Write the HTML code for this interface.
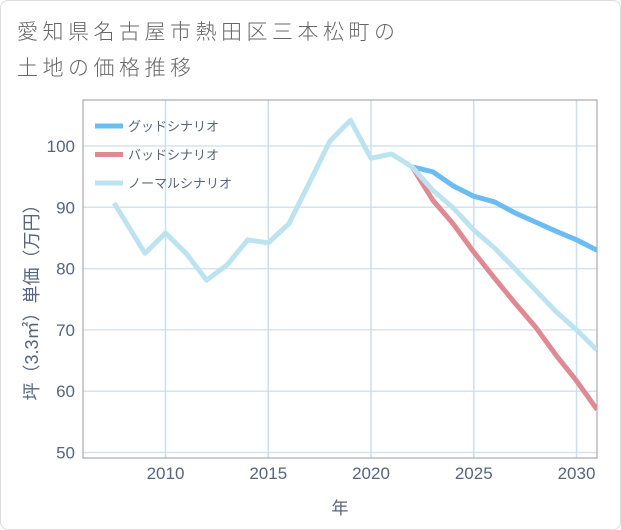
<!DOCTYPE html>
<html><head><meta charset="utf-8"><style>
body{margin:0;background:#fff;}
#wrap{position:relative;width:619px;height:528px;border:1px solid #ddd;border-radius:8px;background:#fff;font-family:"Liberation Sans","Noto Sans CJK JP",sans-serif;overflow:hidden}
#title{position:absolute;left:16px;top:14px;font-size:21px;letter-spacing:4.5px;line-height:36px;color:#666;font-weight:300}
</style></head><body>
<div id="wrap">
<div id="title">愛知県名古屋市熱田区三本松町の<br>土地の価格推移</div>
<svg id="chart" width="621" height="530" style="position:absolute;left:-1px;top:-1px"></svg>
</div>
<script>
const years=[2007.5,2009,2010,2011,2012,2013,2014,2015,2016,2017,2018,2019,2020,2021,2022];
const normalHist=[90.7,82.5,85.8,82.5,78.1,80.6,84.7,84.2,87.3,94,100.8,104.2,98,98.7,96.6];
const futYears=[2022,2023,2024,2025,2026,2027,2028,2029,2030,2031];
const good=[96.6,95.8,93.5,91.8,90.9,89.1,87.6,86.1,84.7,83];
const bad=[96.6,91.2,87.3,82.7,78.5,74.4,70.5,65.9,61.7,57];
const normalFut=[96.6,92.8,89.9,86.3,83.4,80,76.5,73,70,66.7];
const xTicks=[2010,2015,2020,2025,2030];
const yTicks=[50,60,70,80,90,100];
const legendNames=["グッドシナリオ","バッドシナリオ","ノーマルシナリオ"];
const colors=["#6bbcf2","#df8a92","#bde3f0"];
const L=83,R=597,T=100,B=458;
const xs=v=>371+(v-2020)*20.55;
const ys=v=>146+(100-v)*6.13;
const svg=document.getElementById('chart');
const NS='http://www.w3.org/2000/svg';
function mk(t,a,p){const e=document.createElementNS(NS,t);for(const k in a)e.setAttribute(k,a[k]);(p||svg).appendChild(e);return e;}
const defs=mk('clipPath',{id:'clip'});mk('rect',{x:L,y:T,width:R-L,height:B-T},defs);
yTicks.forEach(v=>{const g=mk('line',{x1:L,x2:R,y1:ys(v),y2:ys(v),stroke:'#d6e3ee','stroke-width':1.5});

const t=mk('text',{x:L-8,y:ys(v)+6,'text-anchor':'end','font-size':17,fill:'#56657d'});t.textContent=v;
});
xTicks.forEach(v=>{const g=mk('line',{x1:xs(v),x2:xs(v),y1:T,y2:B,stroke:'#c9e0ee','stroke-width':1.5});

const t=mk('text',{x:xs(v),y:B+21,'text-anchor':'middle','font-size':17,fill:'#56657d'});t.textContent=v;
});
const bd=mk('rect',{x:L,y:T,width:R-L,height:B-T,fill:'none',stroke:'#999','stroke-width':1});

function line(xv,yv,c,name){const p=mk('polyline',{points:xv.map((x,i)=>xs(x)+','+ys(yv[i])).join(' '),fill:'none',stroke:c,'stroke-width':5,'stroke-linejoin':'round','clip-path':'url(#clip)'});
}
line(futYears,good,colors[0],'good-scenario-line');
line(futYears,bad,colors[1],'bad-scenario-line');
line(years.concat(futYears.slice(1)),normalHist.concat(normalFut.slice(1)),colors[2],'normal-scenario-line');
legendNames.forEach((n,i)=>{const y=126+i*28.5;
const l=mk('line',{x1:95,x2:123,y1:y,y2:y,stroke:colors[i],'stroke-width':5});

const t=mk('text',{x:128,y:y+5,'font-size':13,fill:'#56657d'});t.textContent=n;
});
const xt=mk('text',{x:340,y:514,'text-anchor':'middle','font-size':17,fill:'#56657d'});xt.textContent='年';

const yt=mk('text',{x:0,y:0,'text-anchor':'middle','font-size':18,fill:'#56657d',transform:'translate(38,298) rotate(-90)'});yt.textContent='坪（3.3㎡）単価（万円）';

</script>
</body></html>
